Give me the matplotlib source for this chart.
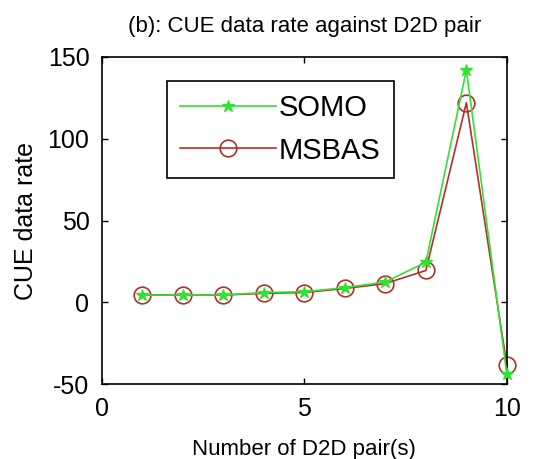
import numpy as np
from matplotlib import pyplot as plt

# D2D pairs and CUE data rate
pairs = [1, 2, 3, 4, 5, 6, 7, 8, 9, 10]
somo = [4.5, 4.5, 4.5, 6.0, 6.5, 9.0, 12.5, 24.5, 142, -44]
msbas = [4.5, 4.5, 4.5, 5.5, 6.0, 8.5, 11.5, 19.5, 122, -38.5]

plt.rcParams['font.family'] = ['Liberation Sans', 'DejaVu Sans']
plt.rcParams['axes.unicode_minus'] = False

fig = plt.figure(figsize=(5.57, 4.59), dpi=100)
ax = fig.add_axes([0.183, 0.163, 0.727, 0.713])

ax.plot(pairs, somo, color='#33e033', marker='*', markersize=9, lw=1.2,
        label='SOMO', zorder=3, clip_on=False)
ax.plot(pairs, msbas, color='#b0302a', marker='o', markersize=12,
        markerfacecolor='none', markeredgewidth=1.2, lw=1.2,
        label='MSBAS', zorder=2, clip_on=False)

ax.set_xlim(0, 10)
ax.set_ylim(-50, 150)
ax.set_xticks([0, 5, 10])
ax.set_yticks([-50, 0, 50, 100, 150])
ax.tick_params(direction='in', top=True, right=True, labelsize=18,
               length=4, width=1, pad=9)
for s in ax.spines.values():
    s.set_linewidth(1.2)

ax.set_title('(b): CUE data rate against D2D pair', fontsize=16, pad=18)
ax.set_xlabel('Number of D2D pair(s)', fontsize=16, labelpad=13)
ax.set_ylabel('CUE data rate', fontsize=18, labelpad=7)

leg = ax.legend(loc='upper left', bbox_to_anchor=(0.16, 0.927), fontsize=21,
                handlelength=3.3, fancybox=False, framealpha=1,
                borderpad=0.45, labelspacing=0.5, handletextpad=0.1,
                borderaxespad=0)
leg.get_frame().set_edgecolor('black')
leg.get_frame().set_linewidth(1.2)

plt.savefig('out.png', dpi=100)
